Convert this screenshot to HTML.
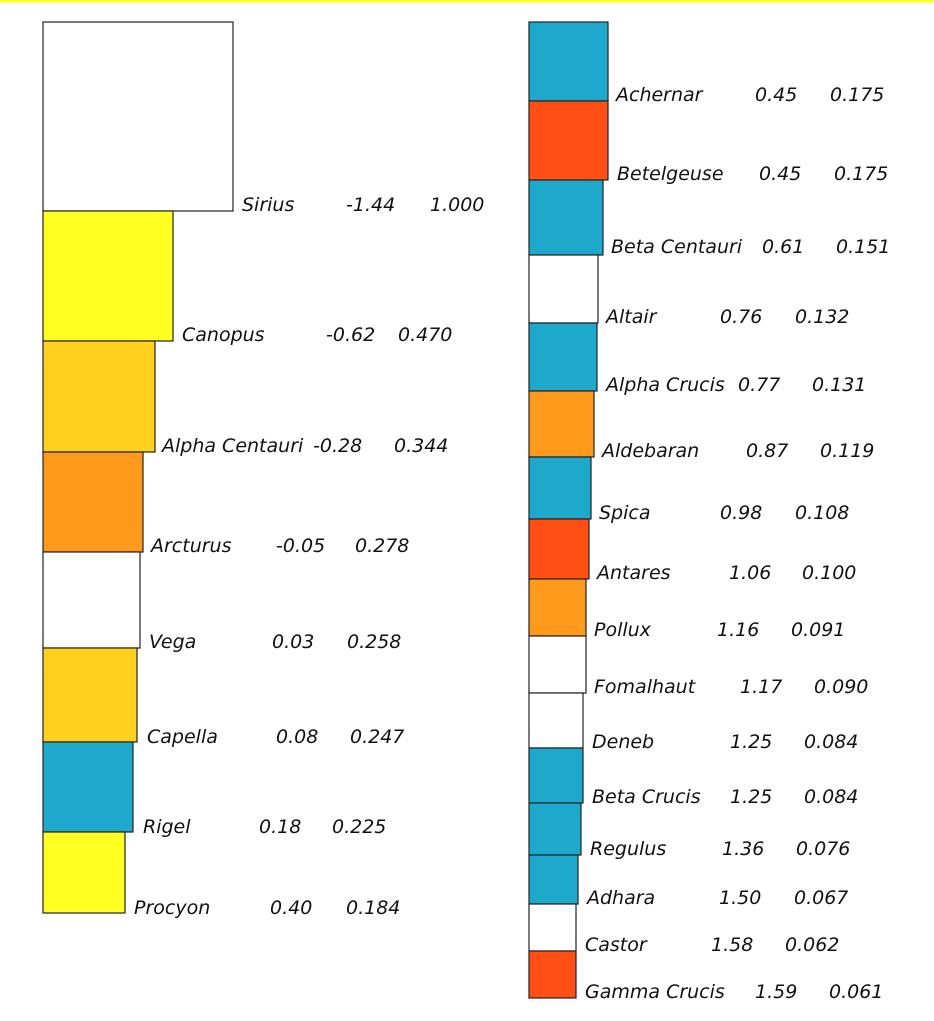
<!DOCTYPE html>
<html><head><style>
html,body{margin:0;padding:0;background:#fff;}
svg{display:block}
text{font-family:"DejaVu Sans","Liberation Sans",sans-serif;font-style:italic;font-size:19px;fill:#111;}
rect{stroke:#222;stroke-width:1.2}
</style></head><body>
<svg width="934" height="1021" viewBox="0 0 934 1021" xmlns="http://www.w3.org/2000/svg">
<rect x="0" y="0" width="934" height="2.5" fill="#ffff22" style="stroke:none"/>
<!-- left column -->
<rect x="43" y="22" width="190" height="189" fill="#fff"/>
<rect x="43" y="211" width="130" height="130" fill="#ffff22"/>
<rect x="43" y="341" width="112" height="111" fill="#ffd01e"/>
<rect x="43" y="452" width="100" height="100" fill="#ff9a1c"/>
<rect x="43" y="552" width="97" height="96" fill="#fff"/>
<rect x="43" y="648" width="94" height="94" fill="#ffd01e"/>
<rect x="43" y="742" width="90" height="90" fill="#1ea8cc"/>
<rect x="43" y="832" width="82" height="81" fill="#ffff22"/>
<g>
<text x="242" y="211">Sirius</text><text x="346" y="211">-1.44</text><text x="430" y="211">1.000</text>
<text x="182" y="341">Canopus</text><text x="326" y="341">-0.62</text><text x="398" y="341">0.470</text>
<text x="162" y="452">Alpha Centauri</text><text x="313" y="452">-0.28</text><text x="394" y="452">0.344</text>
<text x="151" y="552">Arcturus</text><text x="276" y="552">-0.05</text><text x="355" y="552">0.278</text>
<text x="149" y="648">Vega</text><text x="272" y="648">0.03</text><text x="347" y="648">0.258</text>
<text x="147" y="743">Capella</text><text x="276" y="743">0.08</text><text x="350" y="743">0.247</text>
<text x="143" y="833">Rigel</text><text x="259" y="833">0.18</text><text x="332" y="833">0.225</text>
<text x="134" y="914">Procyon</text><text x="270" y="914">0.40</text><text x="346" y="914">0.184</text>
</g>
<!-- right column -->
<rect x="529" y="22" width="79" height="79" fill="#1ea8cc"/>
<rect x="529" y="101" width="79" height="79" fill="#ff4f14"/>
<rect x="529" y="180" width="74" height="75" fill="#1ea8cc"/>
<rect x="529" y="255" width="69" height="68" fill="#fff"/>
<rect x="529" y="323" width="68" height="68" fill="#1ea8cc"/>
<rect x="529" y="391" width="65" height="66" fill="#ff9a1c"/>
<rect x="529" y="457" width="62" height="62" fill="#1ea8cc"/>
<rect x="529" y="519" width="60" height="60" fill="#ff4f14"/>
<rect x="529" y="579" width="57" height="57" fill="#ff9a1c"/>
<rect x="529" y="636" width="57" height="57" fill="#fff"/>
<rect x="529" y="693" width="54" height="55" fill="#fff"/>
<rect x="529" y="748" width="54" height="55" fill="#1ea8cc"/>
<rect x="529" y="803" width="52" height="52" fill="#1ea8cc"/>
<rect x="529" y="855" width="49" height="49" fill="#1ea8cc"/>
<rect x="529" y="904" width="47" height="47" fill="#fff"/>
<rect x="529" y="951" width="47" height="47" fill="#ff4f14"/>
<g>
<text x="616" y="101">Achernar</text><text x="755" y="101">0.45</text><text x="830" y="101">0.175</text>
<text x="617" y="180">Betelgeuse</text><text x="759" y="180">0.45</text><text x="834" y="180">0.175</text>
<text x="611" y="253">Beta Centauri</text><text x="762" y="253">0.61</text><text x="836" y="253">0.151</text>
<text x="606" y="323">Altair</text><text x="720" y="323">0.76</text><text x="795" y="323">0.132</text>
<text x="606" y="391">Alpha Crucis</text><text x="738" y="391">0.77</text><text x="812" y="391">0.131</text>
<text x="602" y="457">Aldebaran</text><text x="746" y="457">0.87</text><text x="820" y="457">0.119</text>
<text x="599" y="519">Spica</text><text x="720" y="519">0.98</text><text x="795" y="519">0.108</text>
<text x="597" y="579">Antares</text><text x="729" y="579">1.06</text><text x="802" y="579">0.100</text>
<text x="594" y="636">Pollux</text><text x="717" y="636">1.16</text><text x="791" y="636">0.091</text>
<text x="594" y="693">Fomalhaut</text><text x="740" y="693">1.17</text><text x="814" y="693">0.090</text>
<text x="592" y="748">Deneb</text><text x="730" y="748">1.25</text><text x="804" y="748">0.084</text>
<text x="592" y="803">Beta Crucis</text><text x="730" y="803">1.25</text><text x="804" y="803">0.084</text>
<text x="590" y="855">Regulus</text><text x="722" y="855">1.36</text><text x="796" y="855">0.076</text>
<text x="587" y="904">Adhara</text><text x="719" y="904">1.50</text><text x="794" y="904">0.067</text>
<text x="585" y="951">Castor</text><text x="711" y="951">1.58</text><text x="785" y="951">0.062</text>
<text x="585" y="998">Gamma Crucis</text><text x="755" y="998">1.59</text><text x="829" y="998">0.061</text>
</g>
</svg>
</body></html>
